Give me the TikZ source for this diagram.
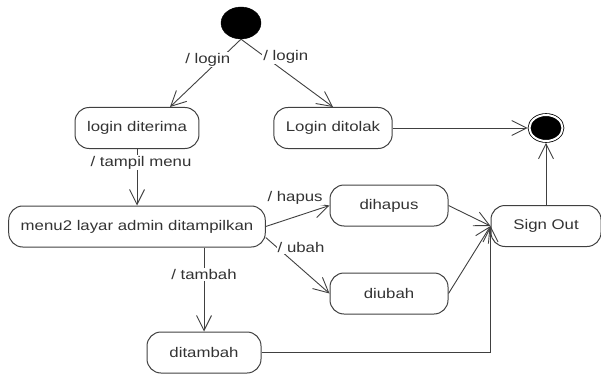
\documentclass[tikz,border=0pt]{standalone}
\usepackage{fontspec}
\setmainfont{Liberation Sans}[FakeStretch=1.2]
\usetikzlibrary{shapes.geometric,arrows.meta,positioning}
\tikzset{node distance=2cm,
  state/.style={draw=black!75, line width=1pt, rounded corners=14pt, minimum width=114pt, minimum height=41pt, inner xsep=12pt, font=\fontsize{14}{16}\selectfont, text=black!80},
  start/.style={ellipse, draw, fill=black, minimum width=40pt, minimum height=32pt, inner sep=0pt},
  stop/.style={ellipse, draw, fill=black, double=white, double distance=2pt, line width=0.8pt, minimum width=33pt, minimum height=26pt, inner sep=0pt, outer sep=1.8pt},
  trans/.style={draw=black!75, line width=0.9pt, -{Straight Barb[length=15pt,width=15pt]}},
  lbl/.style={fill=white, inner sep=1pt, font=\fontsize{14}{16}\selectfont, text=black!80}}

\begin{document}
\begin{tikzpicture}[x=1pt, y=-1pt]
\useasboundingbox (0,0) rectangle (601,374);
\node (start) [start] at (241,23) {};
\node (diterima) [state] at (137,128) {login diterima};
\node (ditolak) [state, node distance=196pt, right of=diterima] {Login ditolak};
\node (stop) [stop, node distance=213pt, right of=ditolak] {};
\node (menu) [state, node distance=98.5pt, below of=diterima] {menu2 layar admin ditampilkan};
\node (dihapus) [state, minimum width=118pt, node distance=252pt, right of=menu, yshift=21pt] {dihapus};
\node (diubah) [state, minimum width=118pt, node distance=88pt, below of=dihapus] {diubah};
\node (ditambah) [state, node distance=126pt, below of=menu, xshift=67pt] {ditambah};
\node (signout) [state, minimum width=110pt, node distance=98pt, below of=stop] {Sign Out};
\draw[trans] (start.south) -- node[lbl, pos=0.3, xshift=-12pt] {/ login} ([xshift=33pt]diterima.north);
\draw[trans] (start.south) -- node[lbl, pos=0.26, anchor=west, xshift=-3pt] {/ login} (ditolak.north);
\draw[trans] (ditolak) -- (stop);
\draw[trans] (diterima) -- node[lbl, pos=0.24, xshift=4pt] {/ tampil menu} (menu);
\draw[trans] (menu.east) -- node[lbl, pos=0.46, above=11pt] {/ hapus} (dihapus.west);
\draw[trans] ([yshift=-11pt]menu.east) -- node[lbl, pos=0.18, anchor=west, xshift=-1pt] {/ ubah} (diubah.west);
\draw[trans] (menu.south -| ditambah) -- node[lbl, pos=0.32] {/ tambah} (ditambah);
\draw[trans] (dihapus.east) -- (signout.west);
\draw[trans] (diubah.east) -- (signout.west);
\draw[trans] (ditambah.east) -| (signout.west);
\draw[trans] (signout) -- (stop);
\end{tikzpicture}
\end{document}
